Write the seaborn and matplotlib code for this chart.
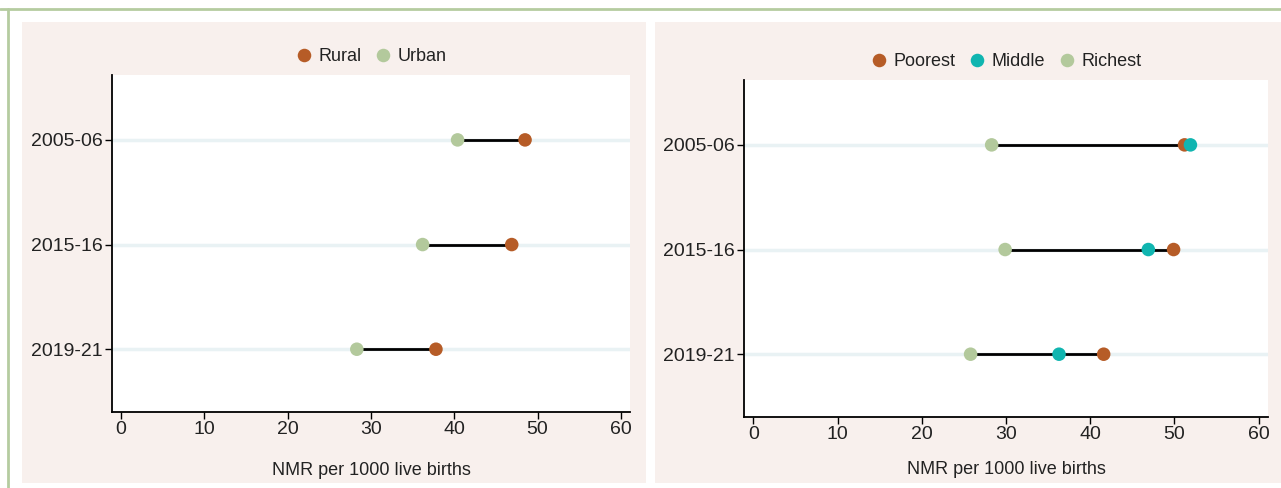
import pandas as pd
import seaborn as sns
import matplotlib.pyplot as plt
from matplotlib.patches import Rectangle
from matplotlib.lines import Line2D

# Datos (NMR por 1000 nacidos vivos)
periods = ["2005-06", "2015-16", "2019-21"]
rural = [48.5, 46.9, 37.8]
urban = [40.4, 36.2, 28.3]
poorest = [51.2, 49.9, 41.6]
middle = [51.9, 46.9, 36.3]
richest = [28.3, 29.9, 25.8]

colores = {"Rural": "#b65c27", "Urban": "#b3c99c",
           "Poorest": "#b65c27", "Middle": "#10b5b0", "Richest": "#b3c99c"}

sns.set_style("white")
plt.rcParams["font.family"] = ["Liberation Sans Narrow", "Liberation Sans", "DejaVu Sans"]


def armar_df(series):
    filas = []
    for nombre, valores in series.items():
        for p, v in zip(periods, valores):
            filas.append({"periodo": p, "grupo": nombre, "nmr": v})
    return pd.DataFrame(filas)


def dumbbell(ax, data, orden, ncol, pad_label):
    # linea del minimo al maximo por periodo
    rango = data.groupby("periodo", sort=False)["nmr"].agg(["min", "max"]).reindex(periods)
    sns.scatterplot(data=data, x="nmr", y="periodo", hue="grupo", hue_order=orden,
                    palette=colores, s=95, linewidth=0, zorder=4, ax=ax)
    ax.hlines(y=list(rango.index), xmin=rango["min"], xmax=rango["max"],
              color="black", linewidth=2, zorder=3)
    for i in range(len(periods)):
        ax.axhline(i, color="#e9f2f4", linewidth=2.5, zorder=1)
    ax.set_ylim(2.6, -0.62)
    ax.set_xlim(-1.1, 61.1)
    ax.set_xticks(range(0, 61, 10))
    ax.set_xlabel("NMR per 1000 live births", fontsize=13, labelpad=pad_label, color="#222222")
    ax.set_ylabel("")
    ax.tick_params(axis="both", labelsize=14, length=5, width=1, color="black",
                   left=True, bottom=True, pad=1.5, labelcolor="#222222")
    for s in ["top", "right"]:
        ax.spines[s].set_visible(False)
    for s in ["left", "bottom"]:
        ax.spines[s].set_color("black")
        ax.spines[s].set_linewidth(1.3)
    leg = ax.legend(loc="lower center", bbox_to_anchor=(0.5, 1.0), ncol=ncol, frameon=False,
                    fontsize=13, handlelength=1.0, handletextpad=0.3, columnspacing=0.7,
                    markerscale=1.0, borderaxespad=0.15)
    for t in leg.get_texts():
        t.set_color("#222222")


fig = plt.figure(figsize=(12.81, 4.88), dpi=100)
fig.patch.set_facecolor("white")

# paneles rosados y borde verde
fig.patches.append(Rectangle((0.0172, 0.0102), 0.4871, 0.945, transform=fig.transFigure,
                             facecolor="#f8f0ed", edgecolor="none", zorder=-5))
fig.patches.append(Rectangle((0.5113, 0.0102), 0.4887, 0.945, transform=fig.transFigure,
                             facecolor="#f8f0ed", edgecolor="none", zorder=-5))
fig.add_artist(Line2D([0.0, 1.0], [0.981, 0.981], transform=fig.transFigure,
                      color="#b5cca0", linewidth=2))
fig.add_artist(Line2D([0.0066, 0.0066], [0.0, 0.981], transform=fig.transFigure,
                      color="#b5cca0", linewidth=2))

ax1 = fig.add_axes([0.0874, 0.1557, 0.4044, 0.6906])
ax2 = fig.add_axes([0.5808, 0.1455, 0.4090, 0.6906])

df_1 = armar_df({"Rural": rural, "Urban": urban})
df_2 = armar_df({"Poorest": poorest, "Middle": middle, "Richest": richest})

dumbbell(ax1, df_1, ["Rural", "Urban"], 2, 17)
dumbbell(ax2, df_2, ["Poorest", "Middle", "Richest"], 3, 13)

plt.savefig("out.png", dpi=100)
